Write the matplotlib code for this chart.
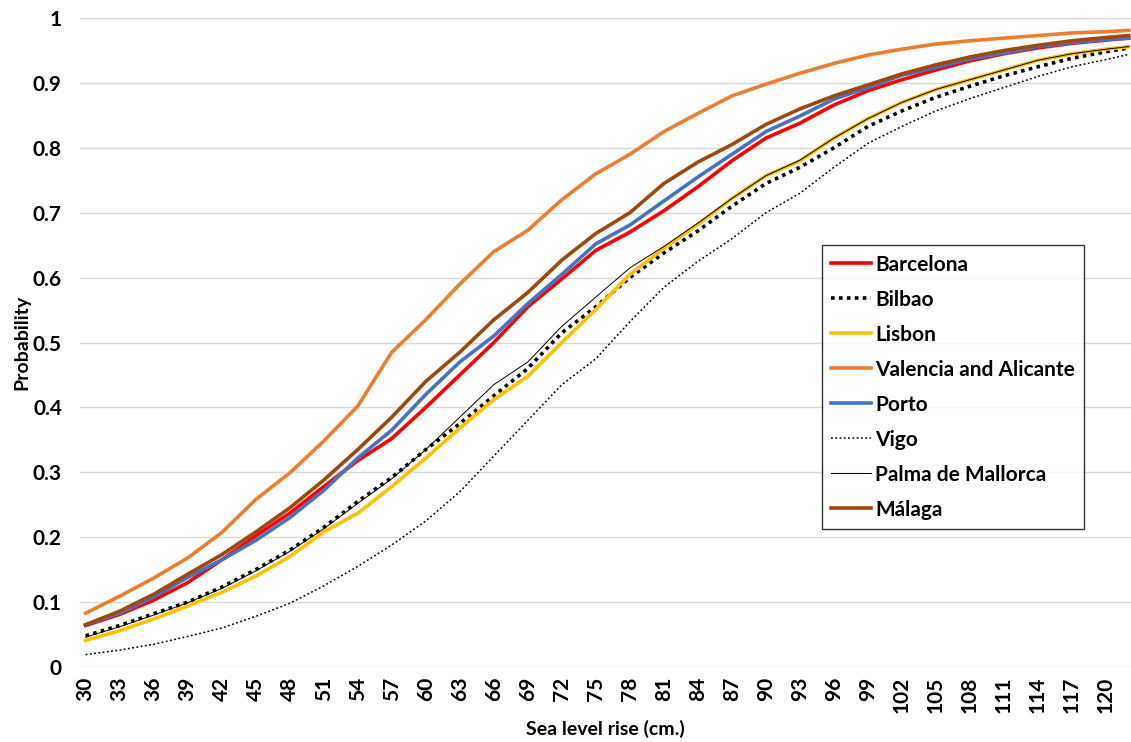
import matplotlib
matplotlib.use('Agg')
import matplotlib.pyplot as plt
from matplotlib.ticker import FuncFormatter

sea_level = [30, 33, 36, 39, 42, 45, 48, 51, 54, 57, 60, 63, 66, 69, 72, 75,
             78, 81, 84, 87, 90, 93, 96, 99, 102, 105, 108, 111, 114, 117, 120, 122]

barcelona = [0.064, 0.081, 0.103, 0.130, 0.165, 0.202, 0.237, 0.278, 0.318, 0.352, 0.400, 0.450,
             0.500, 0.555, 0.598, 0.642, 0.670, 0.703, 0.740, 0.780, 0.815, 0.838, 0.866, 0.888,
             0.905, 0.920, 0.934, 0.945, 0.954, 0.961, 0.966, 0.969]
bilbao = [0.048, 0.064, 0.082, 0.100, 0.123, 0.150, 0.180, 0.215, 0.255, 0.292, 0.335, 0.375,
          0.418, 0.460, 0.515, 0.555, 0.600, 0.638, 0.672, 0.710, 0.745, 0.770, 0.800, 0.833,
          0.857, 0.878, 0.895, 0.911, 0.925, 0.938, 0.948, 0.954]
lisbon = [0.041, 0.056, 0.074, 0.094, 0.115, 0.140, 0.170, 0.208, 0.237, 0.278, 0.322, 0.368,
          0.412, 0.448, 0.500, 0.551, 0.605, 0.645, 0.682, 0.722, 0.757, 0.780, 0.815, 0.845,
          0.870, 0.890, 0.905, 0.920, 0.935, 0.945, 0.952, 0.956]
valencia = [0.083, 0.109, 0.137, 0.168, 0.207, 0.258, 0.299, 0.348, 0.402, 0.485, 0.535, 0.590,
            0.640, 0.673, 0.720, 0.760, 0.790, 0.825, 0.853, 0.880, 0.898, 0.915, 0.930, 0.943,
            0.952, 0.960, 0.965, 0.969, 0.973, 0.977, 0.979, 0.981]
porto = [0.065, 0.083, 0.108, 0.138, 0.165, 0.195, 0.230, 0.272, 0.322, 0.365, 0.420, 0.470,
         0.510, 0.560, 0.605, 0.652, 0.681, 0.718, 0.755, 0.790, 0.825, 0.849, 0.875, 0.893,
         0.912, 0.924, 0.937, 0.946, 0.956, 0.962, 0.967, 0.969]
vigo = [0.019, 0.026, 0.035, 0.047, 0.060, 0.078, 0.098, 0.125, 0.155, 0.188, 0.225, 0.270,
        0.325, 0.380, 0.435, 0.475, 0.532, 0.585, 0.625, 0.660, 0.700, 0.730, 0.770, 0.807,
        0.833, 0.857, 0.876, 0.893, 0.910, 0.925, 0.936, 0.944]
palma = [0.046, 0.062, 0.080, 0.099, 0.121, 0.148, 0.178, 0.213, 0.252, 0.290, 0.335, 0.385,
         0.435, 0.470, 0.525, 0.570, 0.615, 0.648, 0.684, 0.722, 0.757, 0.781, 0.815, 0.845,
         0.870, 0.890, 0.905, 0.920, 0.935, 0.945, 0.952, 0.956]
malaga = [0.065, 0.086, 0.112, 0.143, 0.173, 0.208, 0.245, 0.288, 0.335, 0.385, 0.440, 0.485,
          0.535, 0.577, 0.627, 0.668, 0.700, 0.745, 0.778, 0.805, 0.836, 0.860, 0.880, 0.897,
          0.914, 0.928, 0.940, 0.950, 0.958, 0.965, 0.970, 0.973]

tick_values = list(range(30, 121, 3))

plt.rcParams['font.family'] = ['Lato', 'DejaVu Sans']

fig = plt.figure(figsize=(11.31, 7.42), dpi=100)
ax = fig.add_axes([0.0707, 0.1011, 0.9293, 0.8746])

ax.plot(sea_level, barcelona, color='#FF0000', lw=2.6, label='Barcelona')
ax.plot(sea_level, bilbao, color='black', lw=2.6, linestyle=(0, (1, 1.2)), label='Bilbao')
ax.plot(sea_level, lisbon, color='#FFC000', lw=2.6, label='Lisbon')
ax.plot(sea_level, valencia, color='#ED7D31', lw=2.6, label='Valencia and Alicante')
ax.plot(sea_level, porto, color='#4472C4', lw=2.6, label='Porto')
ax.plot(sea_level, vigo, color='black', lw=1.1, linestyle=(0, (1.2, 1.6)), label='Vigo')
ax.plot(sea_level, palma, color='black', lw=0.7, label='Palma de Mallorca')
ax.plot(sea_level, malaga, color='#9E480E', lw=2.6, label='Málaga')

ax.set_xlim(29.5, 122.2)
ax.set_ylim(0, 1)
ax.set_xticks(tick_values)
ax.set_xticklabels([str(v) for v in tick_values], rotation=90, fontsize=15, fontweight='bold')
ax.set_yticks([i / 10 for i in range(11)])
ax.yaxis.set_major_formatter(FuncFormatter(lambda v, p: '%g' % round(v, 1)))
for lbl in ax.get_yticklabels():
    lbl.set_fontweight('bold')
    lbl.set_fontsize(15)
ax.tick_params(axis='both', length=0)
ax.tick_params(axis='y', pad=13)
ax.tick_params(axis='x', pad=7)

ax.grid(axis='y', color='#D9D9D9', lw=1)
ax.set_axisbelow(True)
for s in ax.spines.values():
    s.set_visible(False)

ax.set_xlabel('Sea level rise (cm.)', fontsize=14, fontweight='bold', labelpad=5)
ax.set_ylabel('Probability', fontsize=14, fontweight='bold', labelpad=2)

leg = ax.legend(loc='upper left', bbox_to_anchor=(0.706, 0.650), frameon=True, fancybox=False,
                edgecolor='black', prop={'weight': 'bold', 'size': 15}, handlelength=1.9,
                handletextpad=0.2, labelspacing=0.72, borderpad=0.45, borderaxespad=0)
leg.get_frame().set_linewidth(1)

plt.savefig('out.png', dpi=100)
plt.close()
